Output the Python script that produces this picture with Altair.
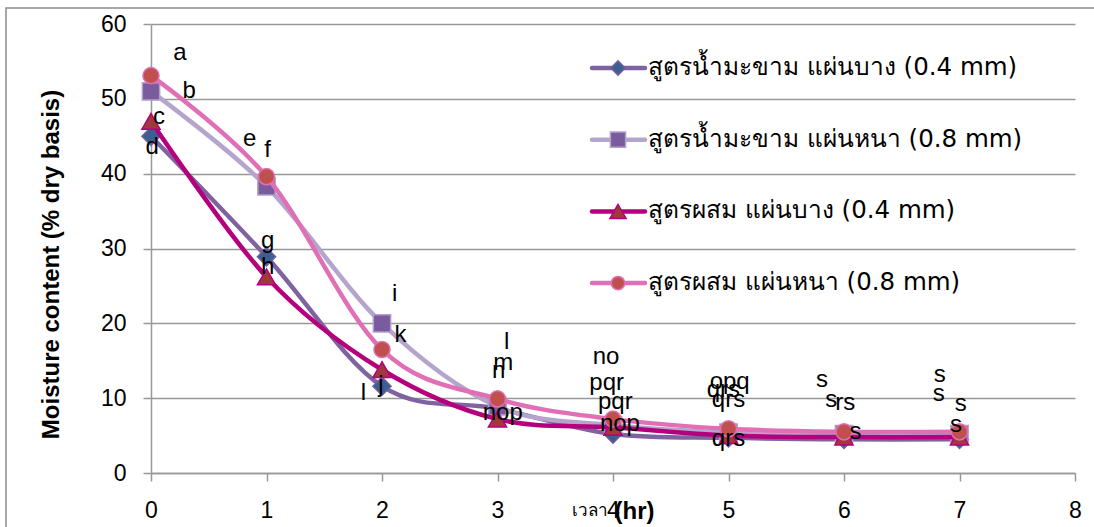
import altair as alt
import pandas as pd

# Drying time (hr)
hours = [0, 1, 2, 3, 4, 5, 6, 7]

# Moisture content (% dry basis) for each formula / sheet thickness
tamarind_thin = [45.0, 28.9, 11.6, 8.6, 5.2, 4.7, 4.5, 4.5]
tamarind_thick = [51.0, 38.3, 20.0, 8.9, 6.4, 5.4, 5.2, 5.2]
mixed_thin = [47.0, 26.2, 13.8, 7.2, 6.1, 5.0, 4.8, 4.8]
mixed_thick = [53.1, 39.6, 16.5, 9.9, 7.2, 5.9, 5.5, 5.5]

series_names = [
    "สูตรน้ำมะขาม แผ่นบาง (0.4 mm)",
    "สูตรน้ำมะขาม แผ่นหนา (0.8 mm)",
    "สูตรผสม แผ่นบาง (0.4 mm)",
    "สูตรผสม แผ่นหนา (0.8 mm)",
]

# Significance letters and where each one sits (hr, % dry basis)
letter_text = ["a", "b", "c", "d", "e", "f", "g", "h", "i", "k", "j", "l",
               "l", "m", "n", "nop",
               "no", "pqr", "pqr", "nop",
               "opq", "qrs", "qrs", "qrs",
               "s", "s", "rs", "s",
               "s", "s", "s", "s"]
letter_x = [0.25, 0.33, 0.07, 0.01, 0.855, 1.01, 1.01, 1.01, 2.11, 2.16, 1.99, 1.84,
            3.08, 3.05, 3.01, 3.045,
            3.94, 3.945, 4.02, 4.06,
            5.01, 4.955, 5.0, 5.0,
            5.81, 5.89, 6.01, 6.10,
            6.83, 6.82, 7.01, 6.97]
letter_y = [56.1, 51.0, 47.6, 43.5, 44.6, 43.2, 31.0, 27.5, 23.9, 18.5, 11.8, 10.7,
            17.5, 14.7, 13.6, 8.0,
            15.5, 12.0, 9.5, 6.5,
            12.2, 11.1, 9.7, 4.6,
            12.4, 9.7, 9.3, 5.5,
            13.1, 10.6, 9.2, 6.4]

line_colors = ["#7F63A1", "#B5A5CD", "#B5007E", "#E06FB6"]
marker_shapes = ["diamond", "square", "triangle-up", "circle"]
marker_fills = ["#3B5F91", "#7A5C9E", "#A0393C", "#C0504D"]
marker_strokes = ["#6F5E9C", "#B1A0CB", "#B6007D", "#E06FB4"]
marker_sizes = [330, 300, 330, 260]
legend_sizes = [200, 230, 260, 180]

FONT = "Liberation Sans"
LEGEND_FONT = "DejaVu Sans"
GRID = "#989898"

W, H = 924, 449

x_scale = alt.Scale(domain=[0, 8], nice=False, zero=False)
y_scale = alt.Scale(domain=[0, 60], nice=False)

x_axis = alt.Axis(
    values=list(range(0, 9)), grid=False, domainColor=GRID, domainWidth=1.5,
    tickColor=GRID, tickWidth=1.5, tickSize=8, labelFontSize=23, labelFont=FONT,
    labelColor="#000000", labelPadding=18, labelFlush=False,
    title="(hr)", titleFont=FONT, titleFontSize=24, titleFontWeight="bold",
    titleColor="#000000", titleX=483, titleY=38, titleAlign="center",
    titleBaseline="middle",
)
y_axis = alt.Axis(
    values=list(range(0, 61, 10)), grid=True, gridColor=GRID, gridWidth=1.5,
    domainColor=GRID, domainWidth=1.5, tickColor=GRID, tickWidth=1.5, tickSize=8,
    labelFontSize=23, labelFont=FONT, labelColor="#000000", labelPadding=17,
    title="Moisture content (% dry basis)", titleFont=FONT, titleFontSize=24,
    titleFontWeight="bold", titleColor="#000000", titleX=-100, titleY=240,
    titleAlign="center", titleBaseline="middle", titleAngle=-90,
)

X = alt.X("hr:Q", scale=x_scale, axis=x_axis)
Y = alt.Y("mc:Q", scale=y_scale, axis=y_axis)

layers = []

all_values = [tamarind_thin, tamarind_thick, mixed_thin, mixed_thick]
for i, vals in enumerate(all_values):
    df = pd.DataFrame({"hr": hours, "mc": vals, "series": series_names[i]})
    base = alt.Chart(df)
    line = base.mark_line(
        interpolate="cardinal", tension=0, color=line_colors[i], strokeWidth=4.5
    ).encode(x=X, y=Y)
    pts = base.mark_point(
        shape=marker_shapes[i], filled=True, fill=marker_fills[i],
        stroke=marker_strokes[i], strokeWidth=1.5, size=marker_sizes[i], opacity=1,
    ).encode(x=X, y=Y)
    layers += [line, pts]

letters = pd.DataFrame({"t": letter_text, "hr": letter_x, "mc": letter_y})
letter_layer = alt.Chart(letters).mark_text(
    font=FONT, fontSize=24, color="#000000", align="center", baseline="middle"
).encode(x=X, y=Y, text="t:N")
layers.append(letter_layer)

# frame around the whole chart area
frame = alt.Chart(pd.DataFrame({"k": [0]})).mark_rect(
    fill="#ffffff", fillOpacity=0, stroke="#8C8C8C", strokeWidth=1.5
).encode(
    x=alt.value(-145), x2=alt.value(1000), y=alt.value(-16), y2=alt.value(600)
)
layers.append(frame)

# Thai part of the x-axis title, set in a smaller face beside "(hr)"
thai_title = alt.Chart(pd.DataFrame({"t": ["เวลา"]})).mark_text(
    fontSize=17, color="#000000", align="center", baseline="middle"
).encode(x=alt.value(439), y=alt.value(487), text="t:N")
layers.append(thai_title)

# Legend: line sample with the series marker, then the label
legend_df = pd.DataFrame({"name": series_names, "idx": [0, 1, 2, 3]})
for i in range(4):
    row = legend_df[legend_df.idx == i]
    ypix = 44 + 71.7 * i
    lc = alt.Chart(row)
    layers.append(lc.mark_rule(color=line_colors[i], strokeWidth=4.5, strokeCap="round").encode(
        x=alt.value(441), x2=alt.value(494), y=alt.value(ypix)))
    layers.append(lc.mark_point(
        shape=marker_shapes[i], filled=True, fill=marker_fills[i],
        stroke=marker_strokes[i], strokeWidth=1.5, size=legend_sizes[i], opacity=1,
    ).encode(x=alt.value(467), y=alt.value(ypix)))
    layers.append(lc.mark_text(
        font=LEGEND_FONT, fontSize=24.5, color="#000000", align="left", baseline="middle"
    ).encode(x=alt.value(497), y=alt.value(ypix), text="name:N"))

chart = alt.layer(*layers).properties(
    width=W, height=H,
    autosize=alt.AutoSizeParams(type="none"),
    padding={"left": 151, "top": 24, "right": 19, "bottom": 54},
    background="#ffffff",
).configure_view(stroke=None)

chart.save("out.html", embed_options={"renderer": "svg", "actions": False})
